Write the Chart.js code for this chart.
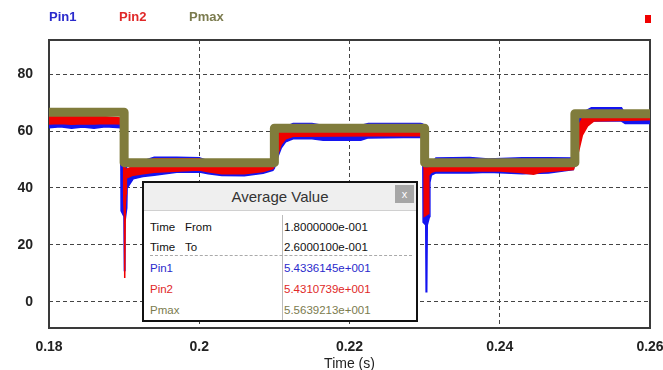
<!DOCTYPE html>
<html>
<head>
<meta charset="utf-8">
<script src="https://cdn.jsdelivr.net/npm/chart.js@4/dist/chart.umd.min.js"></script>
<style>
  body { margin: 0; background: #fff; }
  #wrap { position: relative; width: 663px; height: 370px; font-family: "Liberation Sans", Arial, sans-serif; }
  .leg { position: absolute; top: 9px; font: bold 13px "Liberation Sans", Arial, sans-serif; line-height: 16px; }
  #mark { position: absolute; left: 645px; top: 15px; width: 6px; height: 8px; background: #f00000; }
  #dlg { position: absolute; left: 142px; top: 181px; width: 272px; height: 137px; border: 2px solid #111; background: #fff; }
  #dlg .bar { position: absolute; left: 0; top: 0; width: 272px; height: 27px; background: #efefef; border-bottom: 1px solid #d0d0d0;
              text-align: center; font-size: 15px; line-height: 27px; color: #333; }
  #dlg .close { position: absolute; right: 2px; top: 2px; width: 19px; height: 18px; background: #a6a6a6; color: #fff;
                font-size: 11px; line-height: 18px; text-align: center; }
  #dlg .div { position: absolute; left: 138px; top: 32px; bottom: 0; width: 1px; background: #bbb; }
  #dlg .sep { position: absolute; left: 6px; top: 72px; width: 262px; border-top: 1px dashed #aaa; }
  #dlg .t { position: absolute; font-size: 11.5px; line-height: 14px; color: #111; white-space: nowrap; }
</style>
</head>
<body>
<div id="wrap">
  <canvas id="chart" width="663" height="370"></canvas>
  <div class="leg" style="left:49px;color:#2a2acc">Pin1</div>
  <div class="leg" style="left:119px;color:#e02828">Pin2</div>
  <div class="leg" style="left:189px;color:#7b7b4e">Pmax</div>
  <div id="mark"></div>
  <div id="dlg">
    <div class="bar">Average Value</div>
    <div class="close">x</div>
    <div class="div"></div>
    <div class="sep"></div>
    <div class="t" style="left:6px;top:37px">Time</div>
    <div class="t" style="left:41px;top:37px">From</div>
    <div class="t" style="left:140px;top:37px">1.8000000e-001</div>
    <div class="t" style="left:6px;top:57px">Time</div>
    <div class="t" style="left:41px;top:57px">To</div>
    <div class="t" style="left:140px;top:57px">2.6000100e-001</div>
    <div class="t" style="left:6px;top:78px;color:#2a2acc">Pin1</div>
    <div class="t" style="left:140px;top:78px;color:#2a2acc">5.4336145e+001</div>
    <div class="t" style="left:6px;top:99px;color:#e02828">Pin2</div>
    <div class="t" style="left:140px;top:99px;color:#e02828">5.4310739e+001</div>
    <div class="t" style="left:6px;top:120px;color:#7b7b4e">Pmax</div>
    <div class="t" style="left:140px;top:120px;color:#7b7b4e">5.5639213e+001</div>
  </div>
</div>
<script>
// axis ticks
const xTicks = [0.18, 0.2, 0.22, 0.24, 0.26];
const xTickLabels = ['0.18', '0.2', '0.22', '0.24', '0.26'];
const yTicks = [0, 20, 40, 60, 80];

// Pmax (olive step line)
const pmaxT = [0.18, 0.19, 0.19, 0.21, 0.21, 0.23, 0.23, 0.25, 0.25, 0.26];
const pmaxV = [66.6, 66.6, 48.9, 48.9, 61.0, 61.0, 48.9, 48.9, 66.1, 66.1];

// Pin1 (blue) ripple envelope
const pin1T = [
  0.18, 0.1815, 0.183, 0.1845, 0.186, 0.1875,
  0.18955, 0.1896, 0.18998, 0.19004, 0.1901, 0.19035, 0.1904,
  0.1912, 0.1925, 0.194, 0.197, 0.2, 0.2012, 0.203, 0.206, 0.2085, 0.2098,
  0.21, 0.2104, 0.2109, 0.2115, 0.2125, 0.215, 0.2165, 0.2215, 0.2225, 0.2295,
  0.22975, 0.2298, 0.23015, 0.2302, 0.23028, 0.23035, 0.23065, 0.2307,
  0.2309, 0.2315, 0.236, 0.2385, 0.243, 0.2465, 0.2498,
  0.2501, 0.2504, 0.251, 0.2522, 0.2562, 0.2567, 0.26];
const pin1Hi = [
  63, 63, 63, 63, 63, 63,
  63, 48, 48, 48, 48, 47, 46,
  48, 49.5, 50.8, 50.8, 50.6, 49.5, 49.3, 49.3, 49.5, 49.6,
  52, 60, 61, 61.5, 62.7, 62.7, 62, 62, 62.7, 62.7,
  62.5, 48, 48, 48, 48, 48, 47, 47,
  48.5, 50.5, 50.7, 50.2, 50.6, 50.6, 50.5,
  60, 66, 66.5, 68.2, 68.2, 66, 66];
const pin1Lo = [
  61.2, 61.5, 61, 61.4, 61, 61.5,
  61.2, 32, 30, 11, 28, 33, 40,
  43.2, 44, 44.5, 45.5, 45.6, 45, 44.4, 44.3, 45.2, 46.2,
  47, 50.5, 54, 56.2, 57.3, 57.3, 56.8, 56.8, 57.6, 57.8,
  57.5, 28, 27, 3.5, 4, 27, 30, 42,
  44.5, 45.3, 45.3, 45.5, 45, 45.3, 46.5,
  50, 58, 62, 63.5, 63.5, 62.7, 62.7];

// Pin2 (red) ripple envelope
const pin2T = [
  0.18, 0.1815, 0.183, 0.1845, 0.186, 0.1875,
  0.18992, 0.18995, 0.19005, 0.19008, 0.19015, 0.19025, 0.1903,
  0.1912, 0.1925, 0.194, 0.2, 0.2012, 0.203, 0.206, 0.2085, 0.2098,
  0.21, 0.2104, 0.2109, 0.2115, 0.2125, 0.2295,
  0.22992, 0.22995, 0.2305, 0.23055,
  0.2309, 0.2315, 0.24, 0.2425, 0.2445, 0.2455, 0.2498,
  0.2501, 0.2505, 0.251, 0.2517, 0.2525, 0.26];
const pin2Hi = [
  65, 65, 65, 65, 65, 65,
  64.5, 47, 47, 47, 47, 46.5, 46.5,
  47.5, 48.8, 50.3, 50.3, 48.5, 48.5, 48.5, 48.8, 49,
  50, 58, 60.2, 60.4, 60.5, 60.5,
  60, 47, 47, 47,
  48, 49.8, 49.8, 49.8, 49.8, 49.8, 49.8,
  56, 62, 64.5, 65.2, 66.3, 65.8];
const pin2Lo = [
  62.5, 62.7, 62.4, 62.6, 62.5, 62.7,
  62.5, 36, 30, 8.4, 34, 38, 43.5,
  44.5, 45, 45.5, 46.3, 45.7, 45, 45, 45.8, 46.8,
  48, 51.5, 55.3, 57.3, 58.2, 58.4,
  58, 30, 31, 44.5,
  45.5, 46, 46, 45.5, 44.8, 45.6, 46.5,
  49, 53, 58.6, 61.8, 63.5, 64];

const BLUE = '#1414f0';
const RED = '#f00000';
const OLIVE = '#807c3c';

function pts(t, v) {
  return t.map((x, i) => ({ x: x, y: v[i] }));
}

function band(t, v, color, fill) {
  return {
    data: pts(t, v),
    borderColor: color,
    backgroundColor: color,
    borderWidth: 1.5,
    pointRadius: 0,
    fill: fill
  };
}

// plot frame, under the curves
const framePlugin = {
  id: 'frame',
  beforeDatasetsDraw(chart) {
    const { ctx, chartArea: a } = chart;
    ctx.save();
    ctx.strokeStyle = '#3a3a3a';
    ctx.lineWidth = 2;
    ctx.strokeRect(a.left, a.top, a.right - a.left, a.bottom - a.top);
    ctx.restore();
  }
};

const tickFont = { family: '"Liberation Sans", Arial, sans-serif', size: 14, weight: 'bold' };

new Chart(document.getElementById('chart'), {
  type: 'line',
  data: {
    datasets: [
      {
        label: 'Pmax',
        data: pts(pmaxT, pmaxV),
        borderColor: OLIVE,
        borderWidth: 9,
        borderJoinStyle: 'round',
        borderCapStyle: 'round',
        pointRadius: 0,
        fill: false
      },
      band(pin2T, pin2Hi, RED, '+1'),
      band(pin2T, pin2Lo, RED, false),
      band(pin1T, pin1Hi, BLUE, '+1'),
      band(pin1T, pin1Lo, BLUE, false)
    ]
  },
  options: {
    responsive: false,
    animation: false,
    layout: { padding: { top: 40, right: 13, left: 0, bottom: 0 }, autoPadding: false },
    plugins: { legend: { display: false }, tooltip: { enabled: false } },
    scales: {
      x: {
        type: 'linear',
        min: 0.18,
        max: 0.26,
        afterBuildTicks: (s) => { s.ticks = xTicks.map(v => ({ value: v })); },
        afterFit: (s) => { s.height = 42; s.paddingLeft = 0; s.paddingRight = 0; },
        ticks: {
          padding: 11,
          color: '#222',
          font: tickFont,
          maxRotation: 0,
          autoSkip: false,
          callback: (v, i) => xTickLabels[i]
        },
        grid: { color: '#444', lineWidth: 1, drawTicks: false },
        border: { display: false, dash: [4, 3] },
        title: {
          display: true,
          text: 'Time (s)',
          color: '#222',
          font: { family: '"Liberation Sans", Arial, sans-serif', size: 14 },
          padding: { top: 0, bottom: -3 }
        }
      },
      y: {
        min: -9.2,
        max: 92,
        afterBuildTicks: (s) => { s.ticks = yTicks.map(v => ({ value: v })); },
        afterFit: (s) => { s.width = 49; s.paddingTop = 0; s.paddingBottom = 0; },
        ticks: { padding: 16, color: '#222', font: tickFont },
        grid: { color: '#444', lineWidth: 1, drawTicks: false },
        border: { display: false, dash: [4, 3] }
      }
    }
  },
  plugins: [framePlugin]
});
</script>
</body>
</html>
